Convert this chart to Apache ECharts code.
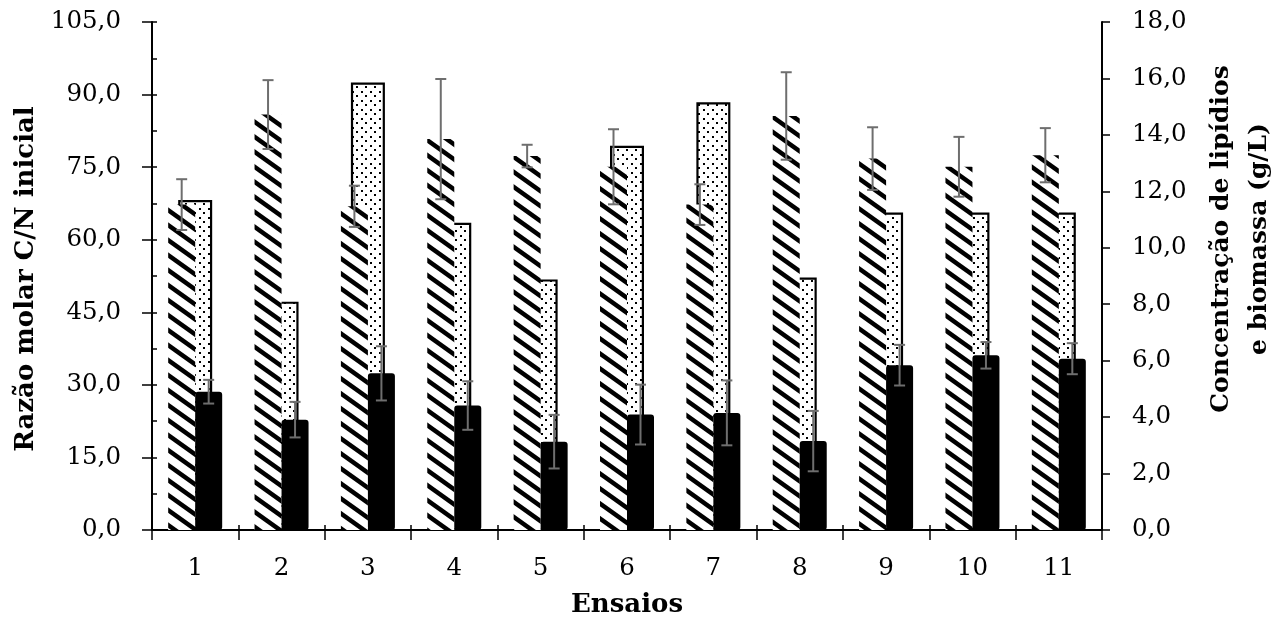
<!DOCTYPE html>
<html>
<head>
<meta charset="utf-8">
<script src="https://cdn.jsdelivr.net/npm/echarts@6/dist/echarts.min.js"></script>
<style>html,body{margin:0;padding:0;background:#fff;}#c{width:1287px;height:632px;}</style>
</head>
<body>
<div id="c"></div>
<script>
// ---- data ----
const categories = ['1','2','3','4','5','6','7','8','9','10','11'];
const cnRatio    = [68.2, 47.2, 92.5, 63.5, 51.8, 79.4, 88.4, 52.2, 65.6, 65.6, 65.6];
const biomass    = [11.53, 14.72, 11.47, 13.85, 13.25, 12.87, 11.53, 14.67, 13.16, 12.87, 13.28];
const biomassErr = [0.90, 1.22, 0.73, 2.13, 0.40, 1.33, 0.72, 1.55, 1.11, 1.06, 0.96];
const lipids     = [4.90, 3.91, 5.55, 4.41, 3.13, 4.09, 4.15, 3.15, 5.84, 6.19, 6.07];
const lipidsErr  = [0.42, 0.63, 0.96, 0.86, 0.95, 1.06, 1.15, 1.07, 0.72, 0.47, 0.55];
const leftTicks  = {min: 0, max: 105, interval: 15};
const rightTicks = {min: 0, max: 18, interval: 2};

const FONT = 'DejaVu Serif';
const BAR2 = 27; // width of secondary bars

function hatchPattern() {
  const W = 21, H = 15;
  const c = document.createElement('canvas');
  c.width = W; c.height = H;
  const ctx = c.getContext('2d');
  ctx.fillStyle = '#fff'; ctx.fillRect(0, 0, W, H);
  ctx.strokeStyle = '#000'; ctx.lineWidth = 4.5;
  for (let k = -1; k <= 1; k++) {
    ctx.beginPath();
    ctx.moveTo(-W, -H + k * H);
    ctx.lineTo(2 * W, 2 * H + k * H);
    ctx.stroke();
  }
  return c;
}
function dotPattern() {
  const S = 9;
  const c = document.createElement('canvas');
  c.width = S; c.height = S;
  const ctx = c.getContext('2d');
  ctx.fillStyle = '#fff'; ctx.fillRect(0, 0, S, S);
  ctx.fillStyle = '#000';
  ctx.fillRect(1, 1, 2, 2);
  ctx.fillRect(5, 5, 2, 2);
  return c;
}

function errData(vals, errs) {
  return vals.map((v, i) => [i, v, errs[i]]);
}
function errRender(offset) {
  return function (params, api) {
    const i = api.value(0), v = api.value(1), e = api.value(2);
    const x = api.coord([i, v])[0] + offset;
    const yt = api.coord([i, v + e])[1];
    const yb = api.coord([i, v - e])[1];
    const st = {stroke: '#6e6e6e', lineWidth: 2};
    const cap = 5.5;
    return {
      type: 'group',
      children: [
        {type: 'line', shape: {x1: x, y1: yt, x2: x, y2: yb}, style: st},
        {type: 'line', shape: {x1: x - cap, y1: yt, x2: x + cap, y2: yt}, style: st},
        {type: 'line', shape: {x1: x - cap, y1: yb, x2: x + cap, y2: yb}, style: st}
      ]
    };
  };
}

const chart = echarts.init(document.getElementById('c'), null, {renderer: 'canvas'});
const axisTxt = {fontFamily: FONT, fontSize: 24.5, color: '#000'};
const option = {
  animation: false,
  backgroundColor: '#fff',
  grid: {left: 152, right: 185, top: 22, bottom: 102},
  xAxis: [
    {type: 'category', data: categories, position: 'bottom',
     axisLine: {lineStyle: {color: '#000', width: 2}},
     axisTick: {show: true, inside: false, length: 10, lineStyle: {color: '#000', width: 1.5}},
     axisLabel: Object.assign({margin: 26}, axisTxt)},
    {type: 'category', data: categories, position: 'bottom',
     axisLine: {show: false},
     axisTick: {show: true, inside: true, length: 5, lineStyle: {color: '#000', width: 1.5}},
     axisLabel: {show: false}}
  ],
  yAxis: [
    {type: 'value', position: 'left', min: leftTicks.min, max: leftTicks.max, interval: leftTicks.interval,
     splitLine: {show: false},
     axisLine: {show: true, lineStyle: {color: '#000', width: 2}},
     axisTick: {show: true, inside: false, length: 10, lineStyle: {color: '#000', width: 1.5}},
     axisLabel: Object.assign({margin: 31, formatter: v => v.toFixed(1).replace('.', ',')}, axisTxt)},
    {type: 'value', position: 'right', min: rightTicks.min, max: rightTicks.max, interval: rightTicks.interval,
     splitLine: {show: false},
     axisLine: {show: true, lineStyle: {color: '#000', width: 2}},
     axisTick: {show: true, inside: false, length: 8, lineStyle: {color: '#000', width: 1.5}},
     axisLabel: Object.assign({margin: 30, formatter: v => v.toFixed(1).replace('.', ',')}, axisTxt)},
    {type: 'value', position: 'left', min: leftTicks.min, max: leftTicks.max, interval: leftTicks.interval / 2,
     splitLine: {show: false}, axisLine: {show: false}, axisLabel: {show: false},
     axisTick: {show: true, inside: true, length: 5, lineStyle: {color: '#000', width: 1.5}}}
  ],
  series: [
    {name: 'C/N', type: 'bar', xAxisIndex: 0, yAxisIndex: 0, data: cnRatio, barWidth: 34,
     itemStyle: {color: {image: dotPattern(), repeat: 'repeat'}, borderColor: '#000', borderWidth: 2.2}},
    {name: 'Biomassa', type: 'bar', xAxisIndex: 1, yAxisIndex: 1, data: biomass, barWidth: BAR2, barGap: '0%',
     itemStyle: {color: {image: hatchPattern(), repeat: 'repeat'}}},
    {name: 'Lipídios', type: 'bar', xAxisIndex: 1, yAxisIndex: 1, data: lipids, barWidth: BAR2, barGap: '0%',
     itemStyle: {color: '#000', borderColor: '#000', borderWidth: 2, borderRadius: 2}},
    {type: 'custom', xAxisIndex: 1, yAxisIndex: 1, renderItem: errRender(-BAR2 / 2),
     data: errData(biomass, biomassErr), encode: {x: 0, y: 1}, z: 5},
    {type: 'custom', xAxisIndex: 1, yAxisIndex: 1, renderItem: errRender(BAR2 / 2),
     data: errData(lipids, lipidsErr), encode: {x: 0, y: 1}, z: 5}
  ],
  graphic: [
    {type: 'text', x: 26, y: 279, rotation: Math.PI / 2,
     style: {text: 'Razão molar C/N inicial', font: 'bold 26px "' + FONT + '"', fill: '#000',
             align: 'center', verticalAlign: 'middle'}},
    {type: 'text', x: 1240, y: 239, rotation: Math.PI / 2,
     style: {text: 'Concentração de lipídios\ne biomassa (g/L)', font: 'bold 25px "' + FONT + '"', fill: '#000',
             align: 'center', verticalAlign: 'middle', lineHeight: 38}},
    {type: 'text', x: 627, y: 605,
     style: {text: 'Ensaios', font: 'bold 26px "' + FONT + '"', fill: '#000',
             align: 'center', verticalAlign: 'middle'}}
  ]
};
chart.setOption(option);
</script>
</body>
</html>
